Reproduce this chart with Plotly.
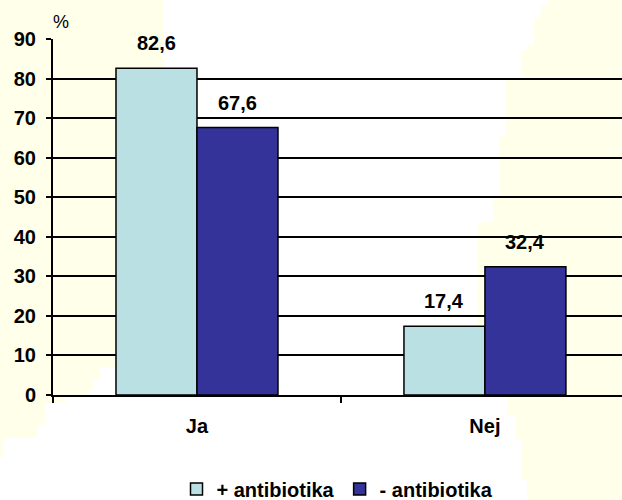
import plotly.graph_objects as go

# Data
categories = ["Ja", "Nej"]
series_names = ["+ antibiotika", "- antibiotika"]
with_antibiotics = [82.6, 17.4]
without_antibiotics = [67.6, 32.4]
y_ticks = [0, 10, 20, 30, 40, 50, 60, 70, 80, 90]

series_values = [with_antibiotics, without_antibiotics]
series_colors = ["#BBE0E3", "#333399"]

W, H = 622, 500
M_L, M_R, M_T, M_B = 53, 0, 39, 105
BARGAP = 0.4375
FONT = "Liberation Sans, Arial, sans-serif"
TXT = 20


def px_to_paper(px, py):
    pw = W - M_L - M_R
    ph = H - M_T - M_B
    return (px - M_L) / pw, 1 - (py - M_T) / ph


def stepped_path(points):
    pts = [px_to_paper(x, y) for x, y in points]
    return "M " + " L ".join(f"{x:.5f},{y:.5f}" for x, y in pts) + " Z"


fig = go.Figure()
for name, vals, col in zip(series_names, series_values, series_colors):
    fig.add_trace(go.Bar(
        x=categories, y=vals, name=name,
        marker=dict(color=col, line=dict(color="black", width=1.5)),
    ))

# Value labels above each bar
n = len(series_names)
slot = (1 - BARGAP) / n
annotations = []
for s, vals in enumerate(series_values):
    offset = -(1 - BARGAP) / 2 + slot * (s + 0.5)
    for i, v in enumerate(vals):
        annotations.append(dict(
            x=i + offset, y=v, xref="x", yref="y",
            text=f"{v:.1f}".replace(".", ","),
            showarrow=False, yanchor="middle", yshift=25,
            font=dict(family=FONT, size=TXT, color="black", weight="bold"),
        ))

# Unit label above the value axis
ux, uy = px_to_paper(61, 22)
annotations.append(dict(
    x=ux, y=uy, xref="paper", yref="paper", text="%", showarrow=False,
    xanchor="center", yanchor="middle",
    font=dict(family=FONT, size=18, color="black"),
))

# Pale cream background patches
left_patch = [(0, 0), (163, 0), (163, 368), (100, 368), (100, 380), (93, 380),
              (93, 390), (87, 390), (87, 397), (65, 397), (65, 403), (45, 403),
              (45, 425), (37, 425), (37, 438), (3, 438), (3, 458), (0, 458)]
right_patch = [(622, 0), (548, 0), (548, 5), (541, 5), (541, 18), (534, 18),
               (534, 45), (528, 45), (528, 50), (521, 50), (521, 80), (506, 80),
               (506, 135), (499, 135), (499, 195), (493, 195), (493, 222),
               (478, 222), (478, 397), (507, 397), (507, 415), (515, 415),
               (515, 440), (521, 440), (521, 480), (527, 480), (527, 500),
               (622, 500)]
shapes = [dict(type="path", path=stepped_path(p), xref="paper", yref="paper",
               fillcolor="#FFFFEA", line=dict(width=0), layer="below")
          for p in (left_patch, right_patch)]

fig.update_layout(
    width=W, height=H,
    margin=dict(l=M_L, r=M_R, t=M_T, b=M_B, pad=0, autoexpand=False),
    paper_bgcolor="white", plot_bgcolor="rgba(0,0,0,0)",
    barmode="group", bargap=BARGAP, bargroupgap=0,
    font=dict(family=FONT, size=TXT, color="black"),
    showlegend=True,
    legend=dict(
        orientation="h", x=0.5, xanchor="center", y=-0.264, yanchor="middle",
        font=dict(family=FONT, size=TXT, color="black", weight="bold"),
        bgcolor="rgba(0,0,0,0)", traceorder="normal",
    ),
    annotations=annotations,
    shapes=shapes,
)

fig.update_xaxes(
    type="category", range=[-0.5, 1.476], automargin=False,
    showline=True, linecolor="black", linewidth=2,
    ticks="outside", tickson="boundaries", ticklen=6, tickwidth=1.5,
    tickcolor="black", showgrid=False, ticklabelstandoff=12,
    tickfont=dict(family=FONT, size=TXT, color="black", weight="bold"),
)
fig.update_yaxes(
    range=[0, 90], tickvals=y_ticks, automargin=False,
    showline=True, linecolor="black", linewidth=2,
    ticks="outside", ticklen=5, tickwidth=1.5, tickcolor="black",
    showgrid=True, gridcolor="black", gridwidth=2, zeroline=False,
    ticklabelstandoff=6,
    tickfont=dict(family=FONT, size=TXT, color="black", weight="bold"),
)

fig.write_html("out.html")
